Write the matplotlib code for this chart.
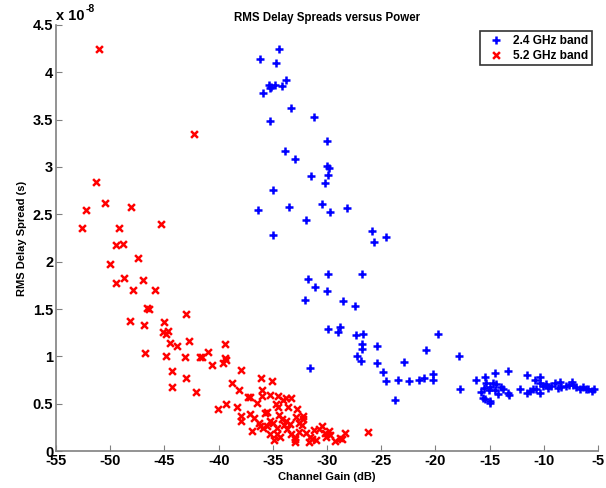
"""RMS delay spread versus channel gain, 2.4 and 5.2 GHz bands"""

from matplotlib import pyplot as plt
import matplotlib.ticker as ticker

# channel gain (dB) and RMS delay spread (units of 1e-8 s), 2.4 GHz band
gain_24 = [
    -34.4, -36.2, -34.7, -33.8, -35.4, -35.2, -34.8, -34.2, -35.3, -35.9,
    -33.3, -35.3, -31.2, -30.0, -33.9, -33.0, -30.0, -29.8, -29.9, -31.5,
    -30.2, -35.0, -36.4, -33.5, -30.5, -29.7, -28.2, -31.9, -35.0, -25.9,
    -25.7, -24.6, -31.8, -29.9, -26.8, -31.1, -30.0, -32.0, -28.5, -27.4,
    -29.9, -29.0, -28.8, -27.3, -26.7, -19.8, -26.8, -26.8, -25.4, -20.9,
    -17.8, -27.2, -26.9, -25.4, -22.9, -31.6, -24.8, -24.6, -23.5, -22.4,
    -21.5, -21.1, -20.2, -20.2, -17.7, -23.7, -16.3, -15.4, -14.5, -13.3,
    -13.3, -13.2, -15.6, -15.4, -15.0, -15.0, -15.3, -15.0, -14.5, -14.0,
    -14.7, -15.5, -15.1, -14.4, -13.8, -15.8, -11.6, -11.6, -11.3, -10.8,
    -10.7, -10.4, -10.4, -10.1, -9.8, -9.6, -9.0, -8.5, -8.4, -8.0,
    -7.4, -7.3, -7.0, -6.4, -6.1, -5.6, -5.4, -10.4, -11.0, -9.3,
    -8.7, -7.7, -6.7, -5.9, -12.2, -14.2,
]
delay_24 = [
    4.25, 4.14, 4.10, 3.92, 3.865, 3.85, 3.865, 3.855, 3.83, 3.78,
    3.62, 3.49, 3.53, 3.27, 3.17, 3.08, 3.01, 2.985, 2.92, 2.91,
    2.83, 2.76, 2.55, 2.58, 2.61, 2.52, 2.57, 2.44, 2.285, 2.325,
    2.21, 2.26, 1.82, 1.87, 1.865, 1.735, 1.69, 1.595, 1.585, 1.53,
    1.29, 1.26, 1.305, 1.225, 1.24, 1.235, 1.13, 1.075, 1.11, 1.07,
    1.00, 1.00, 0.955, 0.925, 0.94, 0.88, 0.83, 0.74, 0.755, 0.735,
    0.755, 0.77, 0.815, 0.745, 0.65, 0.54, 0.745, 0.785, 0.825, 0.85,
    0.615, 0.59, 0.565, 0.545, 0.53, 0.505, 0.715, 0.68, 0.645, 0.68,
    0.72, 0.665, 0.645, 0.71, 0.655, 0.62, 0.80, 0.615, 0.635, 0.755,
    0.65, 0.78, 0.715, 0.685, 0.705, 0.67, 0.715, 0.73, 0.68, 0.685,
    0.73, 0.70, 0.68, 0.68, 0.65, 0.635, 0.66, 0.615, 0.66, 0.69,
    0.67, 0.70, 0.66, 0.655, 0.65, 0.60,
]

# channel gain (dB) and RMS delay spread (units of 1e-8 s), 5.2 GHz band
gain_52 = [
    -51.0, -42.3, -51.3, -50.5, -52.2, -48.1, -52.6, -49.2, -45.3, -49.5,
    -48.8, -47.4, -50.0, -49.5, -48.7, -47.0, -47.9, -45.9, -46.6, -46.4,
    -48.2, -46.9, -43.0, -45.0, -45.1, -44.7, -44.9, -44.5, -43.8, -42.7,
    -46.8, -44.9, -43.1, -41.7, -44.3, -43.0, -44.3, -42.1, -39.4, -41.0,
    -41.5, -39.4, -39.3, -39.6, -40.6, -37.9, -36.1, -35.1, -38.8, -38.1,
    -36.0, -37.3, -37.1, -36.0, -35.3, -34.5, -36.5, -34.7, -33.8, -33.3,
    -34.1, -33.6, -32.8, -34.5, -40.1, -39.3, -38.3, -37.1, -35.5, -37.9,
    -36.3, -36.2, -35.3, -34.2, -33.8, -33.4, -32.2, -32.3, -35.9, -35.5,
    -34.6, -35.3, -34.6, -34.3, -33.7, -33.3, -33.0, -33.0, -32.6, -31.9,
    -31.6, -31.7, -30.7, -30.2, -29.8, -29.7, -30.1, -29.3, -28.6, -28.3,
    -26.2, -28.8, -32.2, -37.9, -34.9, -33.0, -31.4, -36.7, -35.7, -34.0,
    -32.9, -31.2, -30.5, -36.9, -35.0, -31.0, -34.4, -32.6,
]
delay_52 = [
    4.245, 3.35, 2.84, 2.615, 2.545, 2.58, 2.355, 2.36, 2.40, 2.18,
    2.19, 2.04, 1.98, 1.77, 1.83, 1.81, 1.70, 1.70, 1.51, 1.50,
    1.375, 1.33, 1.45, 1.36, 1.26, 1.27, 1.24, 1.14, 1.11, 1.165,
    1.03, 1.00, 0.99, 0.99, 0.845, 0.775, 0.68, 0.62, 1.127, 1.05,
    0.995, 0.985, 0.96, 0.925, 0.905, 0.86, 0.77, 0.74, 0.715, 0.64,
    0.64, 0.57, 0.57, 0.58, 0.59, 0.585, 0.51, 0.50, 0.56, 0.56,
    0.54, 0.46, 0.44, 0.46, 0.44, 0.50, 0.46, 0.39, 0.415, 0.32,
    0.30, 0.26, 0.32, 0.335, 0.32, 0.29, 0.335, 0.275, 0.24, 0.26,
    0.24, 0.175, 0.18, 0.15, 0.23, 0.175, 0.15, 0.10, 0.20, 0.185,
    0.145, 0.10, 0.23, 0.185, 0.215, 0.17, 0.15, 0.11, 0.125, 0.195,
    0.20, 0.14, 0.37, 0.37, 0.12, 0.13, 0.13, 0.35, 0.40, 0.27,
    0.36, 0.22, 0.26, 0.21, 0.30, 0.12, 0.38, 0.30,
]

x_ticks = [-55, -50, -45, -40, -35, -30, -25, -20, -15, -10, -5]
y_ticks = [0, 0.5, 1, 1.5, 2, 2.5, 3, 3.5, 4, 4.5]

plt.rcParams["font.family"] = ["Liberation Sans", "DejaVu Sans"]
plt.rcParams["font.weight"] = "bold"
plt.rcParams["axes.unicode_minus"] = False

fig = plt.figure(figsize=(6.06, 4.88), dpi=100)
ax = fig.add_axes([0.0924, 0.0758, 0.8946, 0.873])

ax.scatter(gain_24, delay_24, marker="+", s=34, linewidths=1.8,
           color="#0000ff", label="2.4 GHz band", zorder=3)
ax.scatter(gain_52, delay_52, marker="x", s=24, linewidths=1.8,
           color="#ff0000", label="5.2 GHz band", zorder=3)

ax.set_xlim(-55, -5)
ax.set_ylim(0, 4.5)
ax.set_xticks(x_ticks)
ax.set_yticks(y_ticks)
ax.yaxis.set_major_formatter(ticker.FuncFormatter(lambda v, pos: f"{v:g}"))
ax.xaxis.set_major_formatter(ticker.FuncFormatter(lambda v, pos: f"{v:g}"))

for side in ("top", "right"):
    ax.spines[side].set_visible(False)
for side in ("left", "bottom"):
    ax.spines[side].set_color("#808080")
    ax.spines[side].set_linewidth(1.2)
ax.tick_params(direction="in", length=4, color="#808080", labelsize=10.5,
               pad=2)
for lbl in ax.get_xticklabels() + ax.get_yticklabels():
    lbl.set_fontweight("bold")

ax.set_title("RMS Delay Spreads versus Power", fontsize=8.3,
             fontweight="bold", pad=3)
ax.set_xlabel("Channel Gain (dB)", fontsize=8, fontweight="bold", labelpad=3)
ax.set_ylabel("RMS Delay Spread (s)", fontsize=8, fontweight="bold",
              labelpad=4)

# MATLAB style exponent label above the y axis
ax.text(0.0, 1.012, "x 10", transform=ax.transAxes, fontsize=10.5,
        fontweight="bold", ha="left", va="baseline")
ax.text(0.054, 1.03, "-8", transform=ax.transAxes, fontsize=7.5,
        fontweight="bold", ha="left", va="baseline")

leg = ax.legend(loc="upper right", fontsize=8.6, frameon=True, fancybox=False,
                edgecolor="black", borderpad=0.3, handletextpad=0.5,
                labelspacing=0.25, borderaxespad=0.5, handlelength=2.0)
leg.get_frame().set_linewidth(1.2)
for t in leg.get_texts():
    t.set_fontweight("bold")

fig.savefig("out.png", dpi=100)
